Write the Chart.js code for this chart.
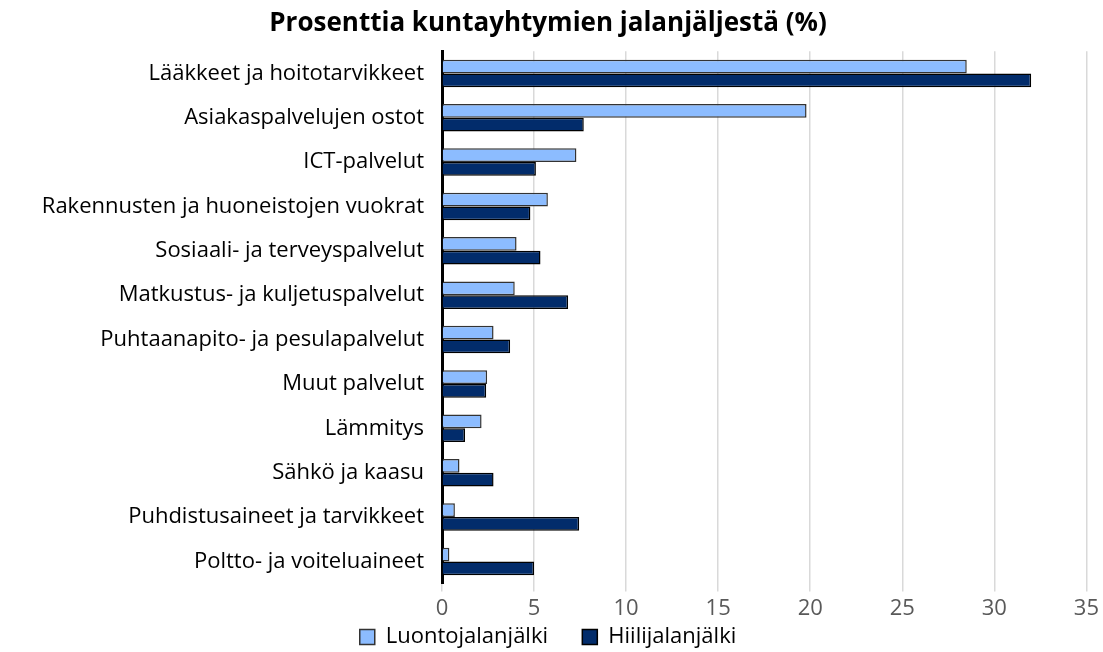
<!DOCTYPE html>
<html>
<head>
<meta charset="utf-8">
<script src="https://cdn.jsdelivr.net/npm/chart.js@4/dist/chart.umd.min.js"></script>
<style>
  html, body { margin: 0; padding: 0; background: #fff; }
  #wrap { width: 1103px; height: 652px; }
</style>
</head>
<body>
<div id="wrap"><canvas id="chart"></canvas></div>
<script>
// categories top to bottom
const categories = [
    'Lääkkeet ja hoitotarvikkeet',
    'Asiakaspalvelujen ostot',
    'ICT-palvelut',
    'Rakennusten ja huoneistojen vuokrat',
    'Sosiaali- ja terveyspalvelut',
    'Matkustus- ja kuljetuspalvelut',
    'Puhtaanapito- ja pesulapalvelut',
    'Muut palvelut',
    'Lämmitys',
    'Sähkö ja kaasu',
    'Puhdistusaineet ja tarvikkeet',
    'Poltto- ja voiteluaineet'
];
const luontojalanjalki = [28.5, 19.8, 7.3, 5.75, 4.05, 3.95, 2.8, 2.45, 2.15, 0.95, 0.7, 0.4];
const hiilijalanjalki = [32.0, 7.7, 5.1, 4.8, 5.35, 6.85, 3.7, 2.4, 1.25, 2.8, 7.45, 5.0];
const xTicks = [0, 5, 10, 15, 20, 25, 30, 35];

const titleText = 'Prosenttia kuntayhtymien jalanjäljestä (%)';
const FONT = "'Open Sans', 'Noto Sans', sans-serif";

const ctx = document.getElementById('chart').getContext('2d');
new Chart(ctx, {
    type: 'bar',
    data: {
        labels: categories,
        datasets: [{
            label: 'Luontojalanjälki',
            data: luontojalanjalki,
            backgroundColor: '#8cbcff',
            borderColor: '#333333',
            borderWidth: 1.5
        }, {
            label: 'Hiilijalanjälki',
            data: hiilijalanjalki,
            backgroundColor: '#022c6b',
            borderColor: '#000000',
            borderWidth: 1.5
        }]
    },
    options: {
        indexAxis: 'y',
        responsive: true,
        maintainAspectRatio: false,
        animation: false,
        categoryPercentage: 0.62,
        barPercentage: 1.0,
        layout: { padding: { left: 0, right: 7, top: 6, bottom: -6 } },
        plugins: {
            title: {
                display: true,
                text: titleText,
                color: '#000',
                font: { family: FONT, size: 26, weight: 'bold' },
                padding: { top: 2, bottom: 12 }
            },
            legend: {
                position: 'bottom',
                labels: {
                    color: '#000',
                    font: { family: FONT, size: 22 },
                    boxWidth: 15,
                    boxHeight: 15,
                    padding: 0,
                    // widen the gap between the two legend entries
                    generateLabels: chart => {
                        const items = Chart.defaults.plugins.legend.labels.generateLabels(chart);
                        items.forEach((it, i) => {
                            it.lineWidth = 1.5;
                            if (i < items.length - 1) it.text = it.text + '\u00a0\u00a0\u00a0\u00a0\u00a0\u00a0';
                        });
                        return items;
                    }
                }
            },
            tooltip: { enabled: false }
        },
        scales: {
            x: {
                min: 0,
                max: 35,
                afterBuildTicks: axis => { axis.ticks = xTicks.map(v => ({ value: v })); },
                grid: { color: '#d9d9d9', lineWidth: 1.5, tickLength: 8 },
                border: { display: false },
                ticks: { color: '#595959', font: { family: FONT, size: 22 }, padding: 4 }
            },
            y: {
                afterFit: axis => { axis.width = 442; },
                grid: { display: false },
                border: { color: '#000', width: 3 },
                ticks: { color: '#000', font: { family: FONT, size: 22 }, padding: 10, autoSkip: false }
            }
        }
    }
});
</script>
</body>
</html>
